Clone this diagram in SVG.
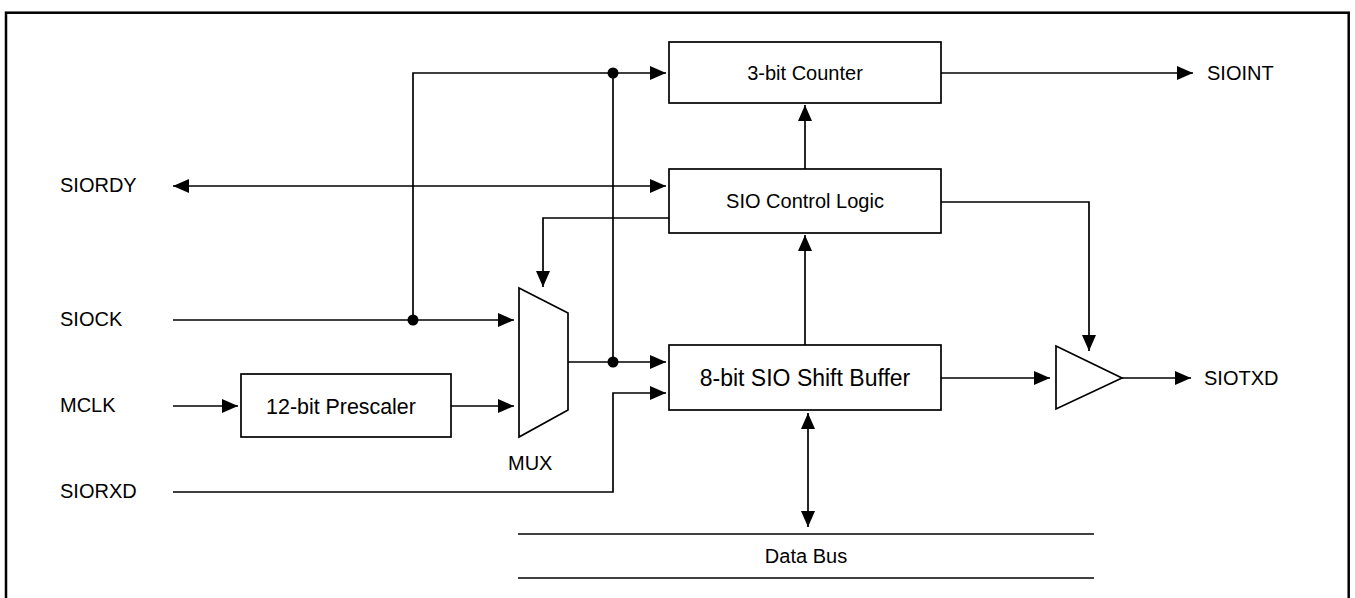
<svg xmlns="http://www.w3.org/2000/svg" width="1355" height="598" viewBox="0 0 1355 598">
<style>
.ln{fill:none;stroke:#000;stroke-width:1.7}
.bx{fill:#fff;stroke:#000;stroke-width:1.7}
.t{font-family:"Liberation Sans",Arial,sans-serif;font-size:20px;fill:#000}
.c{text-anchor:middle}
</style>
<defs>
<marker id="ah" viewBox="0 0 16 14" refX="16" refY="7" markerWidth="16" markerHeight="14" markerUnits="userSpaceOnUse" orient="auto-start-reverse">
<path d="M0,0 L16,7 L0,14 z" fill="#000"/>
</marker>
</defs>
<rect x="6" y="12.7" width="1342.7" height="620" fill="#fff" stroke="#000" stroke-width="2.5"/>
<g id="connectors">
<path class="ln" d="M413,320 V73 H666" marker-end="url(#ah)"/>
<path class="ln" d="M173,320 H514" marker-end="url(#ah)"/>
<path class="ln" d="M613,73 V362"/>
<path class="ln" d="M568,362 H666" marker-end="url(#ah)"/>
<path class="ln" d="M173,406 H238" marker-end="url(#ah)"/>
<path class="ln" d="M451,406 H514" marker-end="url(#ah)"/>
<path class="ln" d="M173,492 H613 V393 H666" marker-end="url(#ah)"/>
<path class="ln" d="M173,186 H666" marker-start="url(#ah)" marker-end="url(#ah)"/>
<path class="ln" d="M672,218 H543 V287" marker-end="url(#ah)"/>
<path class="ln" d="M805,169 V105" marker-end="url(#ah)"/>
<path class="ln" d="M805,345 V235" marker-end="url(#ah)"/>
<path class="ln" d="M941,73 H1193" marker-end="url(#ah)"/>
<path class="ln" d="M941,378 H1050" marker-end="url(#ah)"/>
<path class="ln" d="M941,202 H1089 V351" marker-end="url(#ah)"/>
<path class="ln" d="M1122,378 H1191" marker-end="url(#ah)"/>
<path class="ln" d="M808,413 V527" marker-start="url(#ah)" marker-end="url(#ah)"/>
<circle cx="613" cy="73" r="5.5" fill="#000"/>
<circle cx="413" cy="320" r="5.5" fill="#000"/>
<circle cx="613" cy="362" r="5.5" fill="#000"/>
</g>
<g id="counter">
<rect class="bx" x="669" y="42" width="272" height="61"/>
<text class="t c" x="805" y="80">3-bit Counter</text>
</g>
<g id="control">
<rect class="bx" x="669" y="169" width="272" height="64"/>
<text class="t c" x="805" y="208">SIO Control Logic</text>
</g>
<g id="buffer">
<rect class="bx" x="669" y="345" width="272" height="65"/>
<text class="t c" x="805" y="386" style="font-size:23px">8-bit SIO Shift Buffer</text>
</g>
<g id="prescaler">
<rect class="bx" x="241" y="374" width="210" height="63"/>
<text class="t c" x="341" y="414" style="font-size:21.4px">12-bit Prescaler</text>
</g>
<g id="mux">
<polygon class="bx" points="519,288 568,313 568,410 519,437"/>
<text class="t" x="508" y="470">MUX</text>
</g>
<g id="driver">
<polygon class="bx" points="1056,346 1122,378 1056,409"/>
</g>
<g id="databus">
<line class="ln" x1="518" y1="534" x2="1094" y2="534"/>
<line class="ln" x1="518" y1="578" x2="1094" y2="578"/>
<text class="t c" x="806" y="563">Data Bus</text>
</g>
<g id="labels">
<text class="t" x="60" y="192">SIORDY</text>
<text class="t" x="60" y="326">SIOCK</text>
<text class="t" x="60" y="412">MCLK</text>
<text class="t" x="60" y="498">SIORXD</text>
<text class="t" x="1207" y="80">SIOINT</text>
<text class="t" x="1204" y="385">SIOTXD</text>
</g>
</svg>
